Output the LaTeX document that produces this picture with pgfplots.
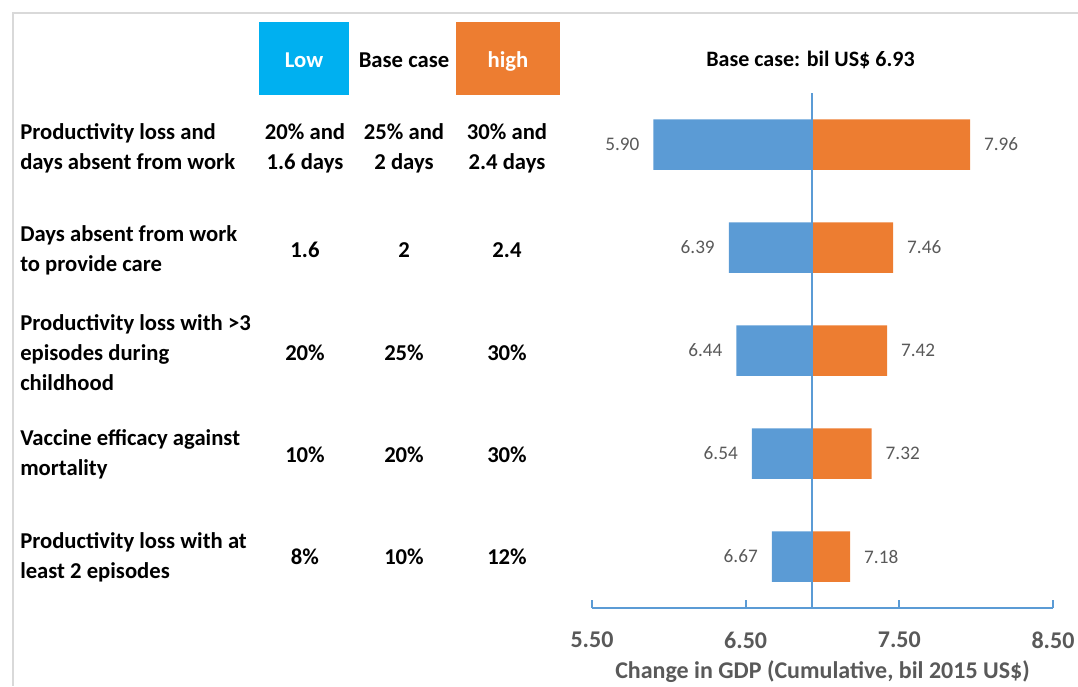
\documentclass[border=0pt]{standalone}
\usepackage{fontspec}
\setmainfont{Carlito}
\usepackage{pgfplots}
\usepackage{pgfplotstable}
\pgfplotsset{compat=1.18}
\definecolor{lowbar}{HTML}{5B9BD5}
\definecolor{highbar}{HTML}{ED7D31}
\definecolor{lowbox}{HTML}{00B0F0}
\definecolor{txtgrey}{HTML}{595959}
\definecolor{framegrey}{HTML}{D9D9D9}
\pgfplotstableread{
row low high
1 5.90 7.96
2 6.39 7.46
3 6.44 7.42
4 6.54 7.32
5 6.67 7.18
}\tornado
\newcommand\tf{\fontsize{17}{22.5}\selectfont\bfseries}
\begin{document}
\begin{tikzpicture}
\useasboundingbox (0,0) rectangle (808.5pt,-514.5pt);
\begin{axis}[
  at={(444pt,-456pt)}, anchor=south west,
  scale only axis, width=345.75pt, height=386.25pt,
  clip=false,
  /pgf/number format/assume math mode=true,
  xmin=5.5, xmax=8.5, ymin=0.5, ymax=5.5, y dir=reverse,
  x coord trafo/.code={\pgfmathparse{#1-6.93}},
  x coord inv trafo/.code={\pgfmathparse{#1+6.93}},
  axis x line*=bottom, axis y line=none,
  x axis line style={lowbar, line width=1.5pt, -},
  xtick={5.5,6.5,7.5,8.5}, xticklabels={5.50,6.50,7.50,8.50},
  tick align=inside, major tick length=6pt,
  xtick style={lowbar, line width=1.5pt},
  ytick=\empty,
  xticklabel style={font=\fontsize{18}{20}\selectfont\bfseries, text=txtgrey, anchor=center, yshift=-24pt},
  xlabel={Change in GDP (Cumulative, bil 2015 US\$)},
  xlabel style={font=\fontsize{18}{20}\selectfont\bfseries, text=txtgrey, at={(axis description cs:0.5,0)}, anchor=center, yshift=-48pt},
  title={Base case: bil US\$ 6.93},
  title style={font=\fontsize{16.5}{20}\selectfont\bfseries, at={(axis description cs:0.5,1)}, anchor=center, yshift=19pt, xshift=-9pt},
]
\addplot[xbar, bar width=0.49, bar shift=0pt, fill=lowbar, draw=none,
  point meta=\thisrow{low},
  nodes near coords={\pgfmathprintnumber[fixed,fixed zerofill,precision=2]{\pgfplotspointmeta}},
  every node near coord/.append style={anchor=east, xshift=-7pt, font=\fontsize{14.4}{16}\selectfont, text=txtgrey}]
  table[x=low, y=row]{\tornado};
\addplot[xbar, bar width=0.49, bar shift=0pt, fill=highbar, draw=none,
  point meta=\thisrow{high},
  nodes near coords={\pgfmathprintnumber[fixed,fixed zerofill,precision=2]{\pgfplotspointmeta}},
  every node near coord/.append style={anchor=west, xshift=7pt, font=\fontsize{14.4}{16}\selectfont, text=txtgrey}]
  table[x=high, y=row]{\tornado};
\addplot[lowbar, line width=1.5pt] coordinates {(6.93,0.5) (6.93,5.5)};
\end{axis}
\begin{scope}[x=0.75pt, y=-0.75pt]
\draw[framegrey, line width=1.5pt] (1078,13) -- (13,13) -- (13,686);
\fill[lowbox] (259,22) rectangle (349,95);
\fill[highbar] (456,22) rectangle (560,95);
\node[font=\tf, text=white, anchor=base] at (304,67) {Low};
\node[font=\tf, anchor=base] at (404,67) {Base case};
\node[font=\tf, text=white, anchor=base] at (508,67) {high};
\begin{scope}[every node/.style={font=\tf, inner sep=0pt}]
\node[anchor=west, align=left] at (20,148) {Productivity loss and\\days absent from work};
\node[anchor=west, align=left] at (20,250.5) {Days absent from work\\to provide care};
\node[anchor=west, align=left] at (20,353) {Productivity loss with >3\\episodes during\\childhood};
\node[anchor=west, align=left] at (20,454.5) {Vaccine efficacy against\\mortality};
\node[anchor=west, align=left] at (20,557.5) {Productivity loss with at\\least 2 episodes};
\node[align=center] at (305,148) {20\% and\\1.6 days};
\node[align=center] at (404,148) {25\% and\\2 days};
\node[align=center] at (507,148) {30\% and\\2.4 days};
\node at (305,250) {1.6};
\node at (404,250) {2};
\node at (507,250) {2.4};
\node at (305,353) {20\%};
\node at (404,353) {25\%};
\node at (507,353) {30\%};
\node at (305,455) {10\%};
\node at (404,455) {20\%};
\node at (507,455) {30\%};
\node at (305,557) {8\%};
\node at (404,557) {10\%};
\node at (507,557) {12\%};
\end{scope}
\end{scope}
\end{tikzpicture}
\end{document}
